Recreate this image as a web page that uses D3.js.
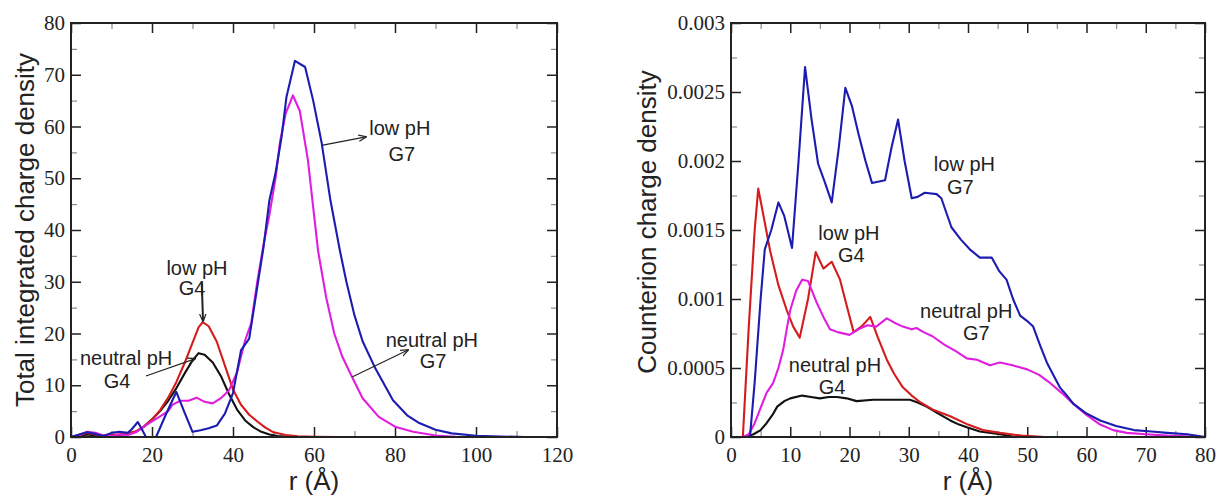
<!DOCTYPE html>
<html>
<head>
<meta charset="utf-8">
<script src="https://cdn.jsdelivr.net/npm/d3@7"></script>
<style>
  body { margin: 0; background: #fff; }
  svg { display: block; }
  .title { font-family: "Liberation Sans", Arial, sans-serif; font-size: 26px; fill: #222; }
  .note { font-family: "Liberation Sans", Arial, sans-serif; font-size: 20px; fill: #222; text-anchor: middle; }
</style>
</head>
<body>
<svg id="chart" width="1219" height="498"></svg>
<script>
// ---------- left panel: total integrated charge density, [r (A), value]
const leftXTicks = [0, 20, 40, 60, 80, 100, 120];
const leftXMinor = [10, 30, 50, 70, 90, 110];
const leftYTicks = [0, 10, 20, 30, 40, 50, 60, 70, 80];
const leftYMinor = [5, 15, 25, 35, 45, 55, 65, 75];

const leftNeutralG4 = [[0,0],[2,0.2],[4,0.5],[6,0.3],[8,0.2],[10,0.3],[12,0.4],[14,0.6],[16,1.0],[18,2.0],[20,3.4],[22,5.0],[24,7.0],[26,9.4],[28,12.2],[30,14.8],[31.5,16.2],[33,15.9],[35,14.4],[37,11.8],[39,8.3],[41,5.3],[43,3.2],[45,1.9],[47,1.0],[49,0.5],[51,0.2],[54,0.05],[58,0]];
const leftLowG4 = [[0,0],[2,0.3],[4,0.8],[6,0.5],[8,0.3],[10,0.4],[12,0.5],[14,0.7],[16,1.1],[18,2.0],[20,3.4],[22,5.2],[24,7.6],[26,10.6],[28,14.2],[30,18.2],[31.5,21.2],[32.5,22.2],[34,21.4],[36,18.4],[38,13.8],[40,9.2],[42,6.2],[44,4.3],[46,3.0],[48,1.8],[50,0.9],[53,0.4],[56,0.15],[60,0.05],[66,0]];
const leftNeutralG7 = [[0,0],[2,0.4],[4,1.0],[6,0.8],[8,0.3],[10,0.2],[12,0.5],[14,0.4],[16,0.9],[18,2.0],[20,3.0],[22,4.0],[24,5.0],[25,6.2],[27,7.0],[29,7.0],[31,7.6],[33,6.8],[35,6.5],[37,7.5],[39,9.0],[41,12.5],[43,18.7],[44.5,22],[46,30],[47.5,37],[49,43],[50.5,50],[51.6,57],[53,62.5],[54.8,66],[56.5,63],[58.5,53.5],[61,36],[63,27],[65,20],[67,15.5],[69.4,11.6],[72,7.5],[76,3.9],[80,2.0],[84.5,1.0],[90,0.3],[95,0.05],[100,0]];
const leftLowG7 = [[0,0],[2,0.5],[4,0.9],[6,0.6],[8,0.2],[10,0.8],[12,1.0],[14,0.8],[15,1.5],[16.5,2.9],[17.5,1.5],[18.5,0],[21,0],[23.5,4.5],[26,8.7],[28,4.8],[30,1.0],[32,1.3],[34,1.7],[36,2.2],[38,4.5],[40,8.5],[42,16.8],[44,19],[46,29],[47.5,36.5],[49,45.8],[50.5,51],[52,58],[53.2,65.7],[55.3,72.7],[57.8,71.5],[59.8,65],[61.9,56.8],[64,46],[66.4,36],[68,30],[70,23.5],[72,18.5],[75,13.5],[79.5,7.1],[83,4.2],[86,2.7],[90,1.4],[94,0.7],[100,0.25],[106,0.1],[112,0]];

// ---------- right panel: counterion charge density, [r (A), value]
const rightXTicks = [0, 10, 20, 30, 40, 50, 60, 70, 80];
const rightXMinor = [5, 15, 25, 35, 45, 55, 65, 75];
const rightYTicks = [0, 0.0005, 0.001, 0.0015, 0.002, 0.0025, 0.003];
const rightYMinor = [0.00025, 0.00075, 0.00125, 0.00175, 0.00225, 0.00275];

const rightNeutralG4 = [[0,0],[2.5,0],[3.8,0.00002],[5,0.00005],[6,0.0001],[7,0.00016],[7.8,0.00022],[9,0.00026],[10,0.00028],[12,0.0003],[13.5,0.00029],[15,0.00028],[16.5,0.00029],[17.9,0.00029],[19.5,0.00028],[21.2,0.00026],[24,0.00027],[27,0.00027],[30.2,0.00027],[31.5,0.00025],[33,0.00022],[35,0.00017],[37,0.00012],[38.5,0.00009],[39.8,0.00007],[42,0.00004],[45.4,0.00002],[48,0]];
const rightLowG4 = [[0,0],[2,0],[3,0.0008],[4,0.0015],[4.6,0.0018],[5.5,0.0016],[6.6,0.00135],[8,0.0011],[9.4,0.00092],[10.5,0.0008],[11.6,0.00072],[13,0.001],[14.3,0.00134],[15.6,0.00122],[17,0.00127],[18.4,0.00114],[19.6,0.00094],[20.7,0.00076],[22,0.0008],[23.5,0.00087],[24.8,0.00072],[26.3,0.00056],[27.5,0.00046],[29,0.00036],[30.5,0.0003],[32,0.00025],[34,0.0002],[37,0.00015],[40,0.00009],[42.5,0.00005],[45.4,0.00003],[49,0.00001],[53,0]];
const rightNeutralG7 = [[0,0],[2,0],[3,0.00002],[4,0.0001],[4.9,0.0002],[6,0.00032],[7.1,0.00039],[8,0.0005],[8.8,0.00063],[9.4,0.00078],[10,0.00092],[11,0.00106],[12,0.00114],[13,0.00113],[14.5,0.00097],[15.6,0.00087],[16.7,0.00078],[18,0.00076],[20,0.00074],[21.5,0.00078],[23,0.00081],[24.5,0.0008],[26.3,0.00086],[27.5,0.00083],[29,0.0008],[30.5,0.00078],[31.3,0.00079],[32.5,0.00076],[34,0.00073],[36,0.00067],[38,0.00062],[39.8,0.00057],[41.5,0.00056],[43.7,0.00052],[45.4,0.00054],[47.5,0.00052],[50,0.00049],[52,0.00045],[53.9,0.00039],[55.8,0.00032],[57.8,0.00024],[60,0.00016],[62.3,0.00009],[64.5,0.00005],[66.8,0.00003],[70,0.00002],[73.6,0.00001],[80,0]];
const rightLowG7 = [[0,0],[2,0],[3.2,0],[4,0.0004],[5,0.001],[5.7,0.00136],[6.8,0.0015],[8,0.0017],[9,0.0016],[10.3,0.00137],[11.4,0.002],[12.5,0.00268],[13.6,0.0023],[14.7,0.00198],[15.8,0.00185],[17,0.0017],[18.2,0.0021],[19.3,0.00253],[20.4,0.0024],[21.5,0.0022],[22.7,0.002],[23.8,0.00184],[26,0.00186],[27.1,0.0021],[28.2,0.0023],[29.3,0.002],[30.5,0.00173],[31.5,0.00174],[32.7,0.00177],[34.7,0.00176],[35.5,0.00173],[37.2,0.00152],[38.8,0.00143],[40.3,0.00136],[42,0.0013],[44,0.0013],[45.3,0.0012],[46.5,0.00114],[47.6,0.001],[48.8,0.00088],[50,0.00084],[51,0.0008],[52.2,0.00066],[53.3,0.00054],[54.4,0.00045],[55.5,0.00036],[56.7,0.0003],[57.8,0.00024],[60,0.00017],[62.3,0.00012],[65,0.00008],[68,0.00005],[71,0.00004],[73.6,0.00003],[77,0.00002],[80,0]];

// labels: [line1, line2, r1, v1, r2, v2] (data coords of each text line's baseline)
const leftNotes = [
  ["low pH", "G7", 81.2, 58.4, 81.7, 53.3],
  ["neutral pH", "G7", 89.1, 17.4, 89.4, 13.3],
  ["low pH", "G4", 31.1, 31.3, 29.9, 27.4],
  ["neutral pH", "G4", 13.6, 13.9, 11.4, 9.5]
];
// arrows: [r from, v from, r to, v to]
const leftArrows = [
  [62.2, 56.4, 72.8, 58.0],
  [69.4, 11.6, 83.2, 16.8],
  [32.3, 29.6, 32.6, 22.4],
  [18.5, 11.8, 30.6, 15.1]
];
const rightNotes = [
  ["low pH", "G7", 39.4, 0.00193, 38.7, 0.00176],
  ["low pH", "G4", 19.9, 0.00143, 20.3, 0.00127],
  ["neutral pH", "G7", 39.7, 0.00086, 41.4, 0.00070],
  ["neutral pH", "G4", 17.55, 0.00047, 17.05, 0.00031]
];

const svg = d3.select("#chart");

const defs = svg.append("defs");
defs.append("marker")
    .attr("id", "head")
    .attr("viewBox", "0 0 10 10")
    .attr("refX", 9).attr("refY", 5)
    .attr("markerWidth", 8).attr("markerHeight", 8)
    .attr("markerUnits", "userSpaceOnUse")
    .attr("orient", "auto")
  .append("path")
    .attr("d", "M0,1 L10,5 L0,9")
    .style("fill", "none")
    .style("stroke", "#222")
    .style("stroke-width", 1.5);

const drawPanel = (p) => {
    const x = d3.scaleLinear().domain(p.xDomain).range([p.left, p.right]);
    const y = d3.scaleLinear().domain(p.yDomain).range([p.bottom, p.top]);
    const g = svg.append("g");

    const addAxis = (axis, tx, ty, len, minor) => {
        const a = g.append("g")
            .attr("transform", `translate(${tx},${ty})`)
            .call(axis.tickSize(len))
            .attr("font-family", "Liberation Serif")
            .attr("font-size", 21);
        a.select(".domain").remove();
        a.selectAll(".tick line")
            .style("stroke", minor ? "#8a8a8a" : "#222")
            .style("stroke-width", minor ? 1.2 : 1.5);
        a.selectAll(".tick text")
            .attr("fill", "#222");
        return a;
    };

    // major ticks with labels
    addAxis(d3.axisBottom(x).tickValues(p.xTicks).tickPadding(10).tickFormat(d3.format("d")), 0, p.bottom, -10, false);
    addAxis(d3.axisLeft(y).tickValues(p.yTicks).tickPadding(6).tickFormat(p.yFormat), p.left, 0, -10, false);
    addAxis(d3.axisTop(x).tickValues(p.xTicks).tickFormat(""), 0, p.top, -10, false);
    addAxis(d3.axisRight(y).tickValues(p.yTicks).tickFormat(""), p.right, 0, -10, false);
    // minor ticks
    addAxis(d3.axisBottom(x).tickValues(p.xMinor).tickFormat(""), 0, p.bottom, -6, true);
    addAxis(d3.axisLeft(y).tickValues(p.yMinor).tickFormat(""), p.left, 0, -6, true);
    addAxis(d3.axisTop(x).tickValues(p.xMinor).tickFormat(""), 0, p.top, -6, true);
    addAxis(d3.axisRight(y).tickValues(p.yMinor).tickFormat(""), p.right, 0, -6, true);

    const line = d3.line().x(d => x(d[0])).y(d => y(d[1]));
    p.series.forEach(s => {
        g.append("path")
            .datum(s.data)
            .attr("d", line)
            .style("fill", "none")
            .style("stroke", s.color)
            .style("stroke-width", 2.1)
            .style("stroke-linejoin", "round");
    });

    // frame
    g.append("rect")
        .attr("x", p.left).attr("y", p.top)
        .attr("width", p.right - p.left).attr("height", p.bottom - p.top)
        .style("fill", "none")
        .style("stroke", "#222")
        .style("stroke-width", 2);

    // axis titles
    g.append("text")
        .attr("class", "title")
        .attr("x", (p.left + p.right) / 2).attr("y", 490)
        .attr("text-anchor", "middle")
        .text("r (Å)");
    g.append("text")
        .attr("class", "title")
        .attr("transform", `translate(${p.left - p.titleGap},${p.titleMid}) rotate(-90)`)
        .attr("text-anchor", "middle")
        .text(p.yTitle);

    // annotations
    p.notes.forEach(n => {
        g.append("text").attr("class", "note").attr("x", x(n[2])).attr("y", y(n[3])).text(n[0]);
        g.append("text").attr("class", "note").attr("x", x(n[4])).attr("y", y(n[5])).text(n[1]);
    });
    p.arrows.forEach((a, i) => {
        g.append("line")
            .attr("x1", x(a[0])).attr("y1", y(a[1]))
            .attr("x2", x(a[2])).attr("y2", y(a[3]))
            .style("stroke", "#222")
            .style("stroke-width", p.heavyArrow === i ? 2 : 1.1)
            .attr("marker-end", "url(#head)");
    });
};

const colors = { neutralG4: "#111111", lowG4: "#d41c1c", neutralG7: "#e01ee0", lowG7: "#1c1cb0" };

drawPanel({
    left: 71, right: 557, top: 23, bottom: 437,
    xDomain: [0, 120], yDomain: [0, 80],
    xTicks: leftXTicks, xMinor: leftXMinor, yTicks: leftYTicks, yMinor: leftYMinor,
    yFormat: d3.format("d"),
    yTitle: "Total integrated charge density", titleGap: 37, titleMid: 230,
    series: [
        { data: leftNeutralG4, color: colors.neutralG4 },
        { data: leftLowG4, color: colors.lowG4 },
        { data: leftNeutralG7, color: colors.neutralG7 },
        { data: leftLowG7, color: colors.lowG7 }
    ],
    notes: leftNotes, arrows: leftArrows, heavyArrow: 2
});

drawPanel({
    left: 731, right: 1205, top: 23, bottom: 437,
    xDomain: [0, 80], yDomain: [0, 0.003],
    xTicks: rightXTicks, xMinor: rightXMinor, yTicks: rightYTicks, yMinor: rightYMinor,
    yFormat: d => d === 0 ? "0" : String(+d.toFixed(4)),
    yTitle: "Counterion charge density", titleGap: 75, titleMid: 222,
    series: [
        { data: rightNeutralG4, color: colors.neutralG4 },
        { data: rightLowG4, color: colors.lowG4 },
        { data: rightNeutralG7, color: colors.neutralG7 },
        { data: rightLowG7, color: colors.lowG7 }
    ],
    notes: rightNotes, arrows: [], heavyArrow: -1
});
</script>
</body>
</html>
